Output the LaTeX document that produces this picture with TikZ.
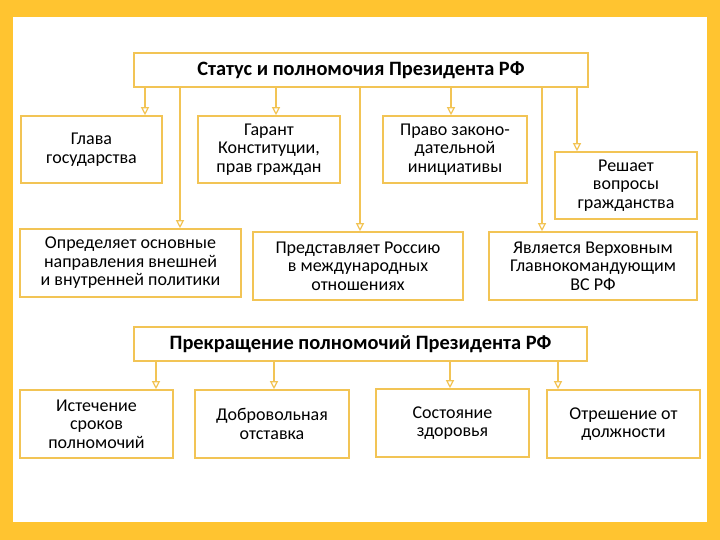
\documentclass[tikz,border=0pt]{standalone}
\usepackage{fontspec}
\setmainfont{Carlito}
\usepackage{tikz}
\usetikzlibrary{arrows.meta, positioning}
\definecolor{frameyellow}{HTML}{FFC430}
\definecolor{boxgold}{HTML}{F2C455}

\begin{document}
\begin{tikzpicture}[
            x=1pt, y=-1pt,
            item/.style={rectangle, draw=boxgold, line width=1.6pt, fill=white, align=center,
                font=\fontsize{18}{18.5}\selectfont, inner sep=2pt},
            head/.style={rectangle, draw=boxgold, line width=1.6pt, fill=white, align=center,
                font=\fontsize{20.4}{22}\selectfont\bfseries, minimum width=454pt, minimum height=34pt},
            arrow/.style={-{Triangle[open, length=8pt, width=8pt]}, draw=boxgold, line width=1.2pt}
        ]

% Frame
            \fill[frameyellow] (0,0) rectangle (720,540);
            \fill[white] (13,17) rectangle (707,522);

% Status
            \node[head] (status) at (361,70) {Статус и полномочия Президента РФ};
            \node[item, minimum width=141pt, minimum height=67pt] (glava) at (91.5,149.5) {Глава\\государства};
            \node[item, minimum width=142pt, minimum height=67pt] (garant) at (269,149.5) {Гарант\\Конституции,\\прав граждан};
            \node[item, minimum width=144pt, minimum height=67pt] (pravo) at (455,149.5) {Право законо-\\дательной\\инициативы};
            \node[item, minimum width=142pt, minimum height=67pt] (reshaet) at (626,185.5) {Решает\\вопросы\\гражданства};
            \node[item, minimum width=221pt, minimum height=68pt] (opred) at (130.5,263) {Определяет основные\\направления внешней\\и внутренней политики};
            \node[item, minimum width=210pt, minimum height=68pt] (predst) at (358,266) {Представляет Россию\\в международных\\отношениях};
            \node[item, minimum width=208pt, minimum height=68pt] (yavl) at (593,266) {Является Верховным\\Главнокомандующим\\ВС РФ};

            \draw[arrow] (145,0 |- status.south) -- (145,0 |- glava.north);
            \draw[arrow] (180,0 |- status.south) -- (180,0 |- opred.north);
            \draw[arrow] (276,0 |- status.south) -- (276,0 |- garant.north);
            \draw[arrow] (360,0 |- status.south) -- (360,0 |- predst.north);
            \draw[arrow] (451,0 |- status.south) -- (451,0 |- pravo.north);
            \draw[arrow] (542,0 |- status.south) -- (542,0 |- yavl.north);
            \draw[arrow] (577,0 |- status.south) -- (577,0 |- reshaet.north);

% Termination
            \node[head, minimum width=453pt] (prekr) at (360.5,344) {Прекращение полномочий Президента РФ};
            \node[item, minimum width=153pt, minimum height=68pt] (istech) at (96.5,424) {Истечение\\сроков\\полномочий};
            \node[item, minimum width=154pt, minimum height=68pt] (dobr) at (272,424) {Добровольная\\отставка};
            \node[item, minimum width=153pt, minimum height=68pt] (sost) at (452.5,423) {Состояние\\здоровья};
            \node[item, minimum width=153pt, minimum height=68pt] (otresh) at (623.5,424) {Отрешение от\\должности};

            \draw[arrow] (156,0 |- prekr.south) -- (156,0 |- istech.north);
            \draw[arrow] (274,0 |- prekr.south) -- (274,0 |- dobr.north);
            \draw[arrow] (450,0 |- prekr.south) -- (450,0 |- sost.north);
            \draw[arrow] (558,0 |- prekr.south) -- (558,0 |- otresh.north);

        \end{tikzpicture}
\end{document}
